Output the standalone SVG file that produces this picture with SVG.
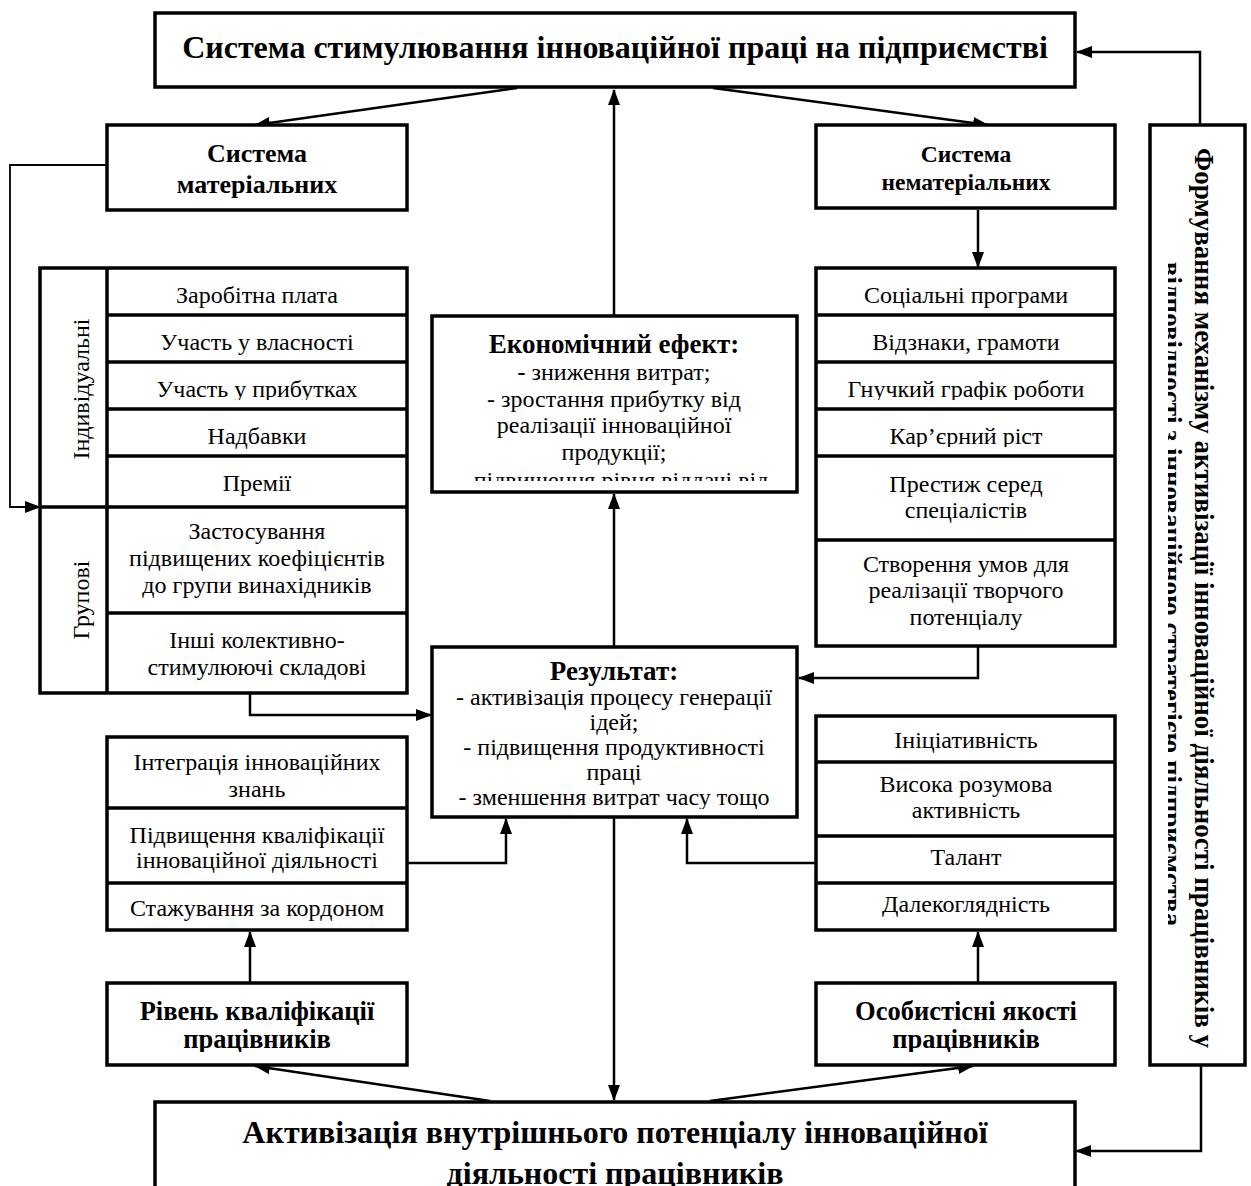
<svg xmlns="http://www.w3.org/2000/svg" width="1251" height="1186" viewBox="0 0 1251 1186">
<style>
.box{fill:#fff;stroke:#000;stroke-width:3.5}
.div{stroke:#000;stroke-width:3.5;fill:none}
.con{stroke:#000;stroke-width:2.5;fill:none}
.thin{stroke:#000;stroke-width:1.8;fill:none}
text{font-family:"Liberation Serif","Times New Roman",serif;fill:#000;text-anchor:middle}
.t{font-size:24px}
.b{font-weight:bold}
</style>
<defs>
<marker id="ar" markerUnits="userSpaceOnUse" markerWidth="16" markerHeight="12" refX="15" refY="6" orient="auto"><path d="M0,0 L16,6 L0,12 z" fill="#000"/></marker>
<clipPath id="c1"><rect x="107" y="362" width="300" height="38"/></clipPath>
<clipPath id="c2"><rect x="816" y="362" width="300" height="38"/></clipPath>
<clipPath id="c3"><rect x="816" y="409" width="300" height="38"/></clipPath>
<clipPath id="c4"><rect x="432" y="316" width="365" height="165"/></clipPath>
<clipPath id="c5"><rect x="432" y="647" width="365" height="162"/></clipPath>
<clipPath id="c6"><rect x="107" y="983" width="300" height="69"/></clipPath>
<clipPath id="c7"><rect x="816" y="983" width="300" height="69"/></clipPath>
<clipPath id="c8"><rect x="1168" y="125" width="77" height="940"/></clipPath>
</defs>

<g id="connectors">
<polyline class="con" points="1200,125 1200,52 1077,52" marker-end="url(#ar)"/>
<line class="con" x1="517" y1="88" x2="255" y2="125" marker-end="url(#ar)"/>
<line class="con" x1="713" y1="88" x2="988" y2="125" marker-end="url(#ar)"/>
<line class="con" x1="614" y1="316" x2="614" y2="90" marker-end="url(#ar)"/>
<polyline class="thin" points="107,165 10,165 10,507 40,507" marker-end="url(#ar)"/>
<line class="con" x1="978" y1="210" x2="978" y2="267" marker-end="url(#ar)"/>
<line class="con" x1="614" y1="647" x2="614" y2="494" marker-end="url(#ar)"/>
<polyline class="con" points="250,693 250,715 431,715" marker-end="url(#ar)"/>
<polyline class="con" points="978,647 978,678 799,678" marker-end="url(#ar)"/>
<line class="con" x1="614" y1="817" x2="614" y2="1100" marker-end="url(#ar)"/>
<polyline class="con" points="407,863 506,863 506,819" marker-end="url(#ar)"/>
<polyline class="con" points="816,863 687,863 687,819" marker-end="url(#ar)"/>
<line class="con" x1="250" y1="983" x2="250" y2="932" marker-end="url(#ar)"/>
<line class="con" x1="978" y1="983" x2="978" y2="932" marker-end="url(#ar)"/>
<line class="con" x1="490" y1="1101" x2="255" y2="1066" marker-end="url(#ar)"/>
<line class="con" x1="710" y1="1101" x2="973" y2="1066" marker-end="url(#ar)"/>
<polyline class="con" points="1201,1065 1201,1151 1076,1151" marker-end="url(#ar)"/>
</g>

<g id="top-title">
<rect class="box" x="155" y="13" width="920" height="74"/>
<text class="b" x="615" y="58" font-size="32">Система стимулювання інноваційної праці на підприємстві</text>
</g>

<g id="material">
<rect class="box" x="107" y="125" width="300" height="85"/>
<text class="b" x="257" y="162" font-size="26">Система</text>
<text class="b" x="257" y="193" font-size="26">матеріальних</text>
</g>

<g id="nonmaterial">
<rect class="box" x="816" y="125" width="299" height="83"/>
<text class="b" x="966" y="162" font-size="23.5">Система</text>
<text class="b" x="966" y="190" font-size="23.5">нематеріальних</text>
</g>

<g id="left-table">
<rect class="box" x="40" y="268" width="367" height="425"/>
<line class="div" x1="107" y1="268" x2="107" y2="693"/>
<line class="div" x1="40" y1="507" x2="407" y2="507"/>
<line class="div" x1="107" y1="315" x2="407" y2="315"/>
<line class="div" x1="107" y1="362" x2="407" y2="362"/>
<line class="div" x1="107" y1="409" x2="407" y2="409"/>
<line class="div" x1="107" y1="456" x2="407" y2="456"/>
<line class="div" x1="107" y1="613" x2="407" y2="613"/>
<text class="t" transform="translate(89,389) rotate(-90)">Індивідуальні</text>
<text class="t" transform="translate(89,600) rotate(-90)">Групові</text>
<text class="t" x="257" y="303">Заробітна плата</text>
<text class="t" x="257" y="350">Участь у власності</text>
<text class="t" x="257" y="397" clip-path="url(#c1)">Участь у прибутках</text>
<text class="t" x="257" y="444">Надбавки</text>
<text class="t" x="257" y="491">Премії</text>
<text class="t" x="257" y="539">Застосування</text>
<text class="t" x="257" y="566">підвищених коефіцієнтів</text>
<text class="t" x="257" y="593">до групи винахідників</text>
<text class="t" x="257" y="648">Інші колективно-</text>
<text class="t" x="257" y="675">стимулюючі складові</text>
</g>

<g id="right-table">
<rect class="box" x="816" y="268" width="299" height="378"/>
<line class="div" x1="816" y1="315" x2="1115" y2="315"/>
<line class="div" x1="816" y1="362" x2="1115" y2="362"/>
<line class="div" x1="816" y1="409" x2="1115" y2="409"/>
<line class="div" x1="816" y1="456" x2="1115" y2="456"/>
<line class="div" x1="816" y1="540" x2="1115" y2="540"/>
<text class="t" x="966" y="303">Соціальні програми</text>
<text class="t" x="966" y="350">Відзнаки, грамоти</text>
<text class="t" x="966" y="397" clip-path="url(#c2)">Гнучкий графік роботи</text>
<text class="t" x="966" y="444" clip-path="url(#c3)">Кар’єрний ріст</text>
<text class="t" x="966" y="492">Престиж серед</text>
<text class="t" x="966" y="518">спеціалістів</text>
<text class="t" x="966" y="572">Створення умов для</text>
<text class="t" x="966" y="598">реалізації творчого</text>
<text class="t" x="966" y="625">потенціалу</text>
</g>

<g id="economic-effect">
<rect class="box" x="432" y="316" width="365" height="176"/>
<g clip-path="url(#c4)">
<text class="b" x="614" y="353" font-size="27">Економічний ефект:</text>
<text class="t" x="614" y="380"><tspan font-weight="bold">-</tspan> зниження витрат;</text>
<text class="t" x="614" y="407">- зростання прибутку від</text>
<text class="t" x="614" y="433">реалізації інноваційної</text>
<text class="t" x="614" y="460">продукції;</text>
<text class="t" x="614" y="488">- підвищення рівня віддачі від</text>
</g>
</g>

<g id="result">
<rect class="box" x="432" y="647" width="365" height="170"/>
<g clip-path="url(#c5)">
<text class="b" x="614" y="680" font-size="27">Результат:</text>
<text class="t" x="614" y="705">- активізація процесу генерації</text>
<text class="t" x="614" y="730">ідей;</text>
<text class="t" x="614" y="755">- підвищення продуктивності</text>
<text class="t" x="614" y="780">праці</text>
<text class="t" x="614" y="805">- зменшення витрат часу тощо</text>
</g>
</g>

<g id="qualification-list">
<rect class="box" x="107" y="737" width="300" height="193"/>
<line class="div" x1="107" y1="808" x2="407" y2="808"/>
<line class="div" x1="107" y1="883" x2="407" y2="883"/>
<text class="t" x="257" y="770">Інтеграція інноваційних</text>
<text class="t" x="257" y="797">знань</text>
<text class="t" x="257" y="843">Підвищення кваліфікації</text>
<text class="t" x="257" y="868">інноваційної діяльності</text>
<text class="t" x="257" y="916">Стажування за кордоном</text>
</g>

<g id="qualities-list">
<rect class="box" x="816" y="716" width="299" height="214"/>
<line class="div" x1="816" y1="762" x2="1115" y2="762"/>
<line class="div" x1="816" y1="836" x2="1115" y2="836"/>
<line class="div" x1="816" y1="883" x2="1115" y2="883"/>
<text class="t" x="966" y="748">Ініціативність</text>
<text class="t" x="966" y="792">Висока розумова</text>
<text class="t" x="966" y="818">активність</text>
<text class="t" x="966" y="865">Талант</text>
<text class="t" x="966" y="912">Далекоглядність</text>
</g>

<g id="qualification-level">
<rect class="box" x="107" y="983" width="300" height="82"/>
<g clip-path="url(#c6)">
<text class="b" x="257" y="1020" font-size="26.5">Рівень кваліфікації</text>
<text class="b" x="257" y="1048" font-size="26.5">працівників</text>
</g>
</g>

<g id="personal-qualities">
<rect class="box" x="816" y="983" width="299" height="82"/>
<g clip-path="url(#c7)">
<text class="b" x="966" y="1020" font-size="26.5">Особистісні якості</text>
<text class="b" x="966" y="1048" font-size="26.5">працівників</text>
</g>
</g>

<g id="mechanism">
<rect class="box" x="1150" y="125" width="95" height="940"/>
<g clip-path="url(#c8)">
<text class="b" font-size="27" transform="translate(1195,598) rotate(90)">Формування механізму активізації інноваційної діяльності працівників у</text>
<text class="b" font-size="27" transform="translate(1163,594) rotate(90)">відповідності з інноваційною стратегією підприємства</text>
</g>
</g>

<g id="bottom-title">
<rect class="box" x="155" y="1102" width="920" height="120"/>
<text class="b" x="615" y="1143" font-size="32">Активізація внутрішнього потенціалу інноваційної</text>
<text class="b" x="615" y="1184" font-size="32">діяльності працівників</text>
</g>
</svg>
